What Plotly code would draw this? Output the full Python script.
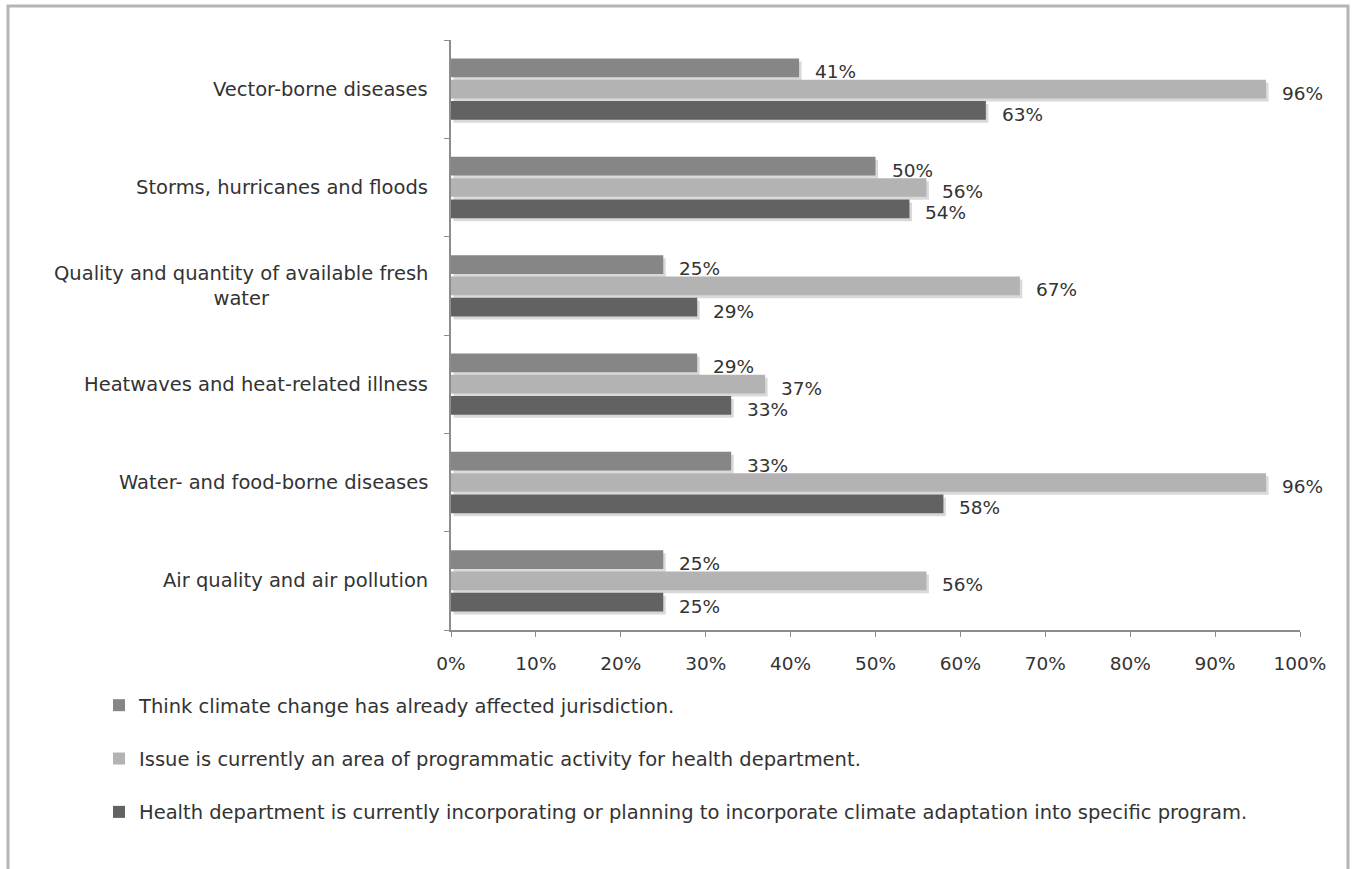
import plotly.graph_objects as go

categories = [
    "Vector-borne diseases",
    "Storms, hurricanes and floods",
    "Quality and quantity of available fresh<br>water",
    "Heatwaves and heat-related illness",
    "Water- and food-borne diseases",
    "Air quality and air pollution",
]
series_names = [
    "Think climate change has already affected jurisdiction.",
    "Issue is currently an area of programmatic activity for health department.",
    "Health department is currently incorporating or planning to incorporate climate adaptation into specific program.",
]
think_vals = [41, 50, 25, 29, 33, 25]
issue_vals = [96, 56, 67, 37, 96, 56]
health_vals = [63, 54, 29, 33, 58, 25]
x_ticks = [0, 10, 20, 30, 40, 50, 60, 70, 80, 90, 100]
x_tick_labels = [f"{v}%" for v in x_ticks]

colors = ["#868686", "#b3b3b3", "#626262"]
FONT = "DejaVu Sans"
TXT = "#333333"
FS = 19.5

W, H = 1355, 869
L, R, T, B = 451, 55, 40, 239
pw, ph = W - L - R, H - T - B

BARGAP = 0.35
GROUPGAP = 0.12
ypos = list(range(len(categories)))
slot = (1 - BARGAP) / 3
bw = slot * (1 - GROUPGAP)

fig = go.Figure()
all_vals = [think_vals, issue_vals, health_vals]

# soft drop shadows (offset a few pixels down/right)
sh_dy = 3 / (ph / 6)
sh_dx = 2.5 / (pw / 100)
for k, vals in enumerate(all_vals):
    fig.add_trace(go.Bar(
        x=vals, y=ypos, orientation="h", base=sh_dx,
        width=bw, offset=(k - 1) * slot - bw / 2 + sh_dy,
        marker=dict(color="#d9d9d9", line=dict(width=0)),
        showlegend=False, hoverinfo="skip",
    ))

for k, (name, vals) in enumerate(zip(series_names, all_vals)):
    fig.add_trace(go.Bar(
        x=vals, y=ypos, orientation="h", name=name,
        width=bw, offset=(k - 1) * slot - bw / 2,
        marker=dict(color=colors[k], line=dict(width=0)),
        legendgroup=f"g{k}", hoverinfo="x+name",
    ))

annotations = []
for k, vals in enumerate(all_vals):
    for i, v in enumerate(vals):
        annotations.append(dict(
            x=v, y=i + (k - 1) * slot, xref="x", yref="y",
            text=f"{v}%", showarrow=False, xanchor="left", yanchor="middle",
            xshift=14, yshift=-4, font=dict(family=FONT, size=FS - 1, color=TXT),
        ))
for i, c in enumerate(categories):
    annotations.append(dict(
        x=0, y=i, xref="paper", yref="y", text=c, showarrow=False,
        xanchor="right", yanchor="middle", align="center", xshift=-21,
        font=dict(family=FONT, size=FS, color=TXT),
    ))

def px_x(p):
    return (p - L) / pw

def px_y(p):
    return 1 - (p - T) / ph

fig.update_layout(
    width=W, height=H,
    margin=dict(l=L, r=R, t=T, b=B, autoexpand=False),
    paper_bgcolor="white", plot_bgcolor="white",
    barmode="overlay",
    font=dict(family=FONT, size=FS, color=TXT),
    annotations=annotations,
    showlegend=True,
    legend=dict(
        x=px_x(99), y=px_y(686), xanchor="left", yanchor="top",
        orientation="v", tracegroupgap=25, traceorder="grouped",
        font=dict(family=FONT, size=FS, color=TXT),
        itemwidth=30, bgcolor="rgba(0,0,0,0)",
    ),
    xaxis=dict(
        range=[0, 100], tickvals=x_ticks, ticktext=x_tick_labels,
        showgrid=False, zeroline=False, showline=True, linecolor="#8c8c8c",
        linewidth=1.5, ticks="outside", ticklen=5, tickcolor="#8c8c8c",
        ticklabelstandoff=11,
        tickfont=dict(family=FONT, size=FS - 1, color=TXT), fixedrange=True,
    ),
    yaxis=dict(
        range=[5.5, -0.5], tickvals=ypos, showticklabels=False, ticks="",
        showgrid=False, zeroline=False, showline=True, linecolor="#8c8c8c",
        linewidth=1.5,
        minor=dict(tickvals=[i - 0.5 for i in range(len(categories) + 1)],
                   ticks="outside", ticklen=5, tickcolor="#8c8c8c", showgrid=False),
        fixedrange=True,
    ),
    shapes=[dict(
        type="rect", xref="paper", yref="paper",
        x0=px_x(8), x1=px_x(1348), y0=px_y(900), y1=px_y(6),
        line=dict(color="#b5b5b5", width=3), fillcolor="rgba(0,0,0,0)", layer="below",
    )],
)

fig.write_html("out.html")
